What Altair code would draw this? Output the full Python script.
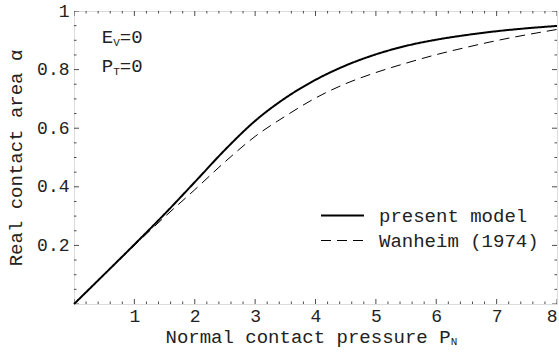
import altair as alt
import pandas as pd

# ---- data ----
pressure = [0, 0.5, 1, 1.5, 2, 2.5, 3, 3.5, 4, 4.5, 5, 5.5, 6, 6.5, 7, 7.5, 8]
present_model = [0, 0.101, 0.203, 0.307, 0.416, 0.526, 0.625, 0.703, 0.765,
                 0.814, 0.852, 0.881, 0.902, 0.918, 0.931, 0.941, 0.949]
wanheim = [0, 0.100, 0.200, 0.297, 0.390, 0.485, 0.572, 0.641, 0.703,
           0.752, 0.790, 0.822, 0.851, 0.876, 0.899, 0.919, 0.937]
series_names = ["present model", "Wanheim (1974)"]

x_major = [1, 2, 3, 4, 5, 6, 7, 8]
x_ticks_major = [0, 1, 2, 3, 4, 5, 6, 7, 8]
x_ticks_minor = [i / 5 for i in range(0, 41) if i % 5 != 0]
y_major = [0.2, 0.4, 0.6, 0.8, 1.0]
y_ticks_major = [0, 0.2, 0.4, 0.6, 0.8, 1.0]
y_ticks_minor = [i / 20 for i in range(0, 21) if i % 4 != 0]

rows = []
for p, a, b in zip(pressure, present_model, wanheim):
    rows.append({"P": p, "alpha": a, "series": series_names[0]})
    rows.append({"P": p, "alpha": b, "series": series_names[1]})
df = pd.DataFrame(rows)

W, H = 483, 293
FONT = "Liberation Mono"
TXT = "#222222"

xscale = alt.Scale(domain=[0, 8], nice=False, zero=False)
yscale = alt.Scale(domain=[0, 1], nice=False, zero=False)

leg = alt.Legend(orient="none", legendX=246, legendY=192, title=None,
                 labelFont=FONT, labelFontSize=19, labelColor=TXT,
                 symbolType="stroke", symbolSize=1849, symbolStrokeColor="black",
                 labelOffset=14, clipHeight=25, rowPadding=0)

x_axis = alt.Axis(
    orient="bottom", values=x_major, format="d", ticks=False, domain=False,
    grid=False, labelFont=FONT, labelFontSize=18, labelColor=TXT,
    labelPadding=3, title="Normal contact pressure P", titleFont=FONT,
    titleFontSize=19, titleFontWeight="normal", titleColor=TXT,
    titlePadding=2, titleAlign="left", titleX=91)
y_axis = alt.Axis(
    orient="left", values=y_major,
    labelExpr="datum.value == 1 ? '1' : format(datum.value, '.1f')",
    ticks=False, domain=False, grid=False, labelFont=FONT, labelFontSize=18,
    labelColor=TXT, labelPadding=5, title="Real contact area α",
    titleFont=FONT, titleFontSize=19, titleFontWeight="normal",
    titleColor=TXT, titlePadding=11)

main = alt.Chart(df).mark_line(color="black", interpolate="monotone").encode(
    x=alt.X("P:Q", scale=xscale, axis=x_axis),
    y=alt.Y("alpha:Q", scale=yscale, axis=y_axis),
    strokeDash=alt.StrokeDash("series:N", scale=alt.Scale(
        domain=series_names, range=[[1, 0], [10, 6]]), legend=leg),
    strokeWidth=alt.StrokeWidth("series:N", scale=alt.Scale(
        domain=series_names, range=[2, 1]), legend=leg),
    detail="series:N",
)

# frame ticks, drawn through the scales and clipped to the plot area
xt = pd.DataFrame({"P": x_ticks_major + x_ticks_minor,
                   "len": [10] * len(x_ticks_major) + [5] * len(x_ticks_minor)})
yt = pd.DataFrame({"alpha": y_ticks_major + y_ticks_minor,
                   "len": [10] * len(y_ticks_major) + [5] * len(y_ticks_minor)})


def xticks(edge):
    return alt.Chart(xt).mark_tick(orient="vertical", clip=True, color="black",
                                   thickness=1).encode(
        x=alt.X("P:Q", scale=xscale, axis=x_axis),
        y=alt.datum(edge, scale=yscale),
        size=alt.Size("len:Q", scale=None, legend=None))


def yticks(edge):
    return alt.Chart(yt).mark_tick(orient="horizontal", clip=True, color="black",
                                   thickness=1).encode(
        y=alt.Y("alpha:Q", scale=yscale, axis=y_axis),
        x=alt.datum(edge, scale=xscale),
        size=alt.Size("len:Q", scale=None, legend=None))


tick_layers = [xticks(0), xticks(1), yticks(0), yticks(8)]

# annotations
ann_x = [0.46, 0.46]
ann_y = [0.891, 0.791]
ann_main_text = ["E", "P"]
ann_sub_text = ["V", "T"]
ann_eq_text = ["=0", "=0"]
ann = pd.DataFrame({"P": ann_x, "alpha": ann_y, "m": ann_main_text,
                    "s": ann_sub_text, "e": ann_eq_text})


def txt(field, size, dx, dy, data=ann):
    return alt.Chart(data).mark_text(
        font=FONT, fontSize=size, align="left", baseline="alphabetic",
        color=TXT, dx=dx, dy=dy).encode(
        x=alt.X("P:Q", scale=xscale, axis=x_axis),
        y=alt.Y("alpha:Q", scale=yscale, axis=y_axis),
        text=f"{field}:N")


sub_n = pd.DataFrame({"P": [6.24], "alpha": [0.0], "s": ["N"]})

chart = alt.layer(
    main, *tick_layers,
    txt("m", 19, 0, 0), txt("s", 11, 11.5, 3), txt("e", 19, 18, 0),
    txt("s", 11, 0, 41, data=sub_n),
).properties(
    width=W, height=H,
    autosize=alt.AutoSizeParams(type="none"),
    padding={"left": 74, "top": 11, "right": 2, "bottom": 49},
).configure_view(stroke="black", strokeWidth=1).configure(background="white")

chart.save("out.html", embed_options={"renderer": "svg", "actions": False})
